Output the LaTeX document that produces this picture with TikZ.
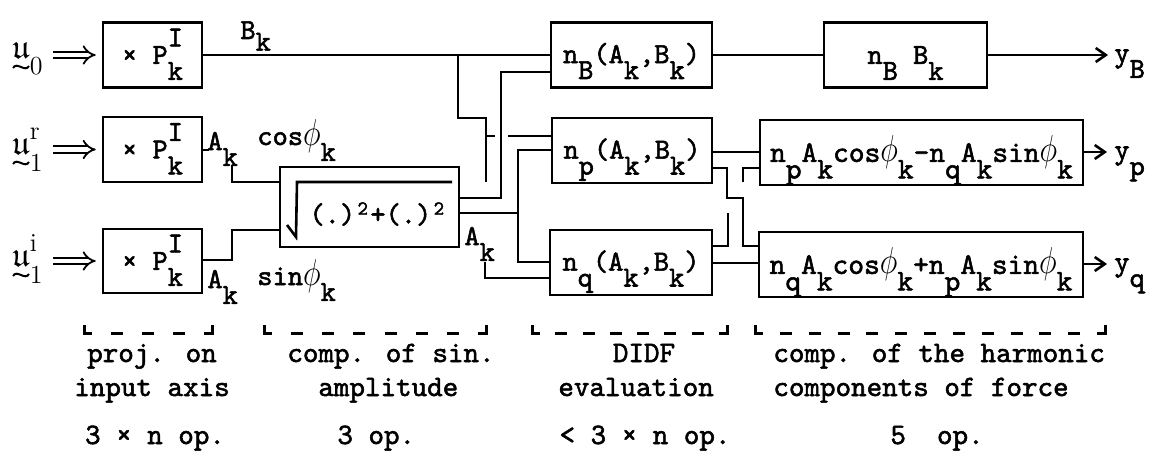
\documentclass[tikz,border=0pt]{standalone}
\usepackage{amsmath,amssymb}
\usepackage{fontspec}
\usetikzlibrary{arrows.meta}
\newfontfamily\tw{lmmono10-regular.otf}[FakeBold=1.8]
\newcommand\boxfont{\tw\fontsize{14.5}{17}\selectfont}
\newcommand\capfont{\tw\fontsize{14.8}{17}\selectfont}
\newcommand\dnx[1]{\smash{\raisebox{-0.55em}{#1}}}
\newcommand\upx[1]{\smash{\raisebox{0.6em}{#1}}}
\newcommand\phk{\scalebox{1.05}[1.3]{$\phi$}}
\newcommand\sqx{\makebox[0.525em]{\raisebox{0.3em}{\fontsize{10}{10}\selectfont 2}}}
\newcommand\smallrm[1]{{\rmfamily\fontsize{13}{13}\selectfont #1}}
\newcommand\brkt[3]{%
  \draw[brk] (#1,325) -- (#1,333) -- ++(8,0);
  \draw[brk] (#2,325) -- (#2,333) -- ++(-8,0);
  \pgfmathsetmacro\bgap{(#2-#1-16-12*#3)/(#3+1)}
  \foreach \i in {1,...,#3}{\draw[brk] ({#1+8+\i*\bgap+(\i-1)*12},333) -- ++(12,0);}
}
\newcommand\tildeat[2]{\draw[line width=1pt] (#1,#2+2) .. controls (#1+4,#2-5) and (#1+12,#2+7) .. (#1+16,#2);}
\tikzset{
  blk/.style={draw, line width=1.3pt, inner sep=0pt, font=\boxfont},
  wire/.style={line width=1.3pt},
  lbl/.style={inner sep=0pt, font=\boxfont, anchor=base west},
  captxt/.style={inner sep=0pt, font=\capfont, anchor=base west},
  inlbl/.style={inner sep=0pt, font=\fontsize{17}{20}\selectfont, anchor=base west},
  brk/.style={line width=1.5pt},
  outarrow/.style={wire, -{Straight Barb[length=5pt,width=7pt]}},
  inarrow/.style={double, double distance=2.4pt, line width=0.9pt, -{Implies}, shorten <=5pt, shorten >=3pt},
}
\begin{document}
\begin{tikzpicture}[x=0.5pt,y=-0.5pt]
\fill[white] (0,0) rectangle (1163,471);
\useasboundingbox (0,0) rectangle (1163,471);

% blocks
\node[blk, minimum width=49.5pt, minimum height=32.5pt] (P0) at (152.5,55) {× P\rlap{\upx{I}}\dnx{k}\hspace{7pt}};
\node[blk, minimum width=49.5pt, minimum height=32.5pt] (P1r) at (152.5,149.5) {× P\rlap{\upx{I}}\dnx{k}\hspace{7pt}};
\node[blk, minimum width=49.5pt, minimum height=32pt] (P1i) at (152.5,261) {× P\rlap{\upx{I}}\dnx{k}\hspace{7pt}};
\node[blk, minimum width=89.5pt, minimum height=40pt] (SQ) at (369.5,207) {};
\node[inner sep=0pt, font=\boxfont] (sqt) at (378,214) {(.)\sqx+(.)\sqx};
\draw[wire] (287,225) -- (296,237) -- (297,182) -- (452,182);
\node[blk, minimum width=80.5pt, minimum height=32.5pt] (nB) at (631.5,55) {n\dnx{B}(A\dnx{k},B\dnx{k})};
\node[blk, minimum width=80pt, minimum height=32.5pt] (np) at (632,150.5) {n\dnx{p}(A\dnx{k},B\dnx{k})};
\node[blk, minimum width=81pt, minimum height=32.5pt] (nq) at (631,262.5) {n\dnx{q}(A\dnx{k},B\dnx{k})};
\node[blk, minimum width=81.5pt, minimum height=32.5pt] (nBB) at (905.5,55) {n\dnx{B} B\dnx{k}};
\node[blk, minimum width=161.5pt, minimum height=32.5pt, font=\tw\fontsize{15}{17}\selectfont] (op) at (921.5,152.5) {n\dnx{p}A\dnx{k}cos\phk\dnx{k}-n\dnx{q}A\dnx{k}sin\phk\dnx{k}};
\node[blk, minimum width=162pt, minimum height=32.5pt, font=\tw\fontsize{15}{17}\selectfont] (oq) at (921,264.5) {n\dnx{q}A\dnx{k}cos\phk\dnx{k}+n\dnx{p}A\dnx{k}sin\phk\dnx{k}};

% inputs
\node[inlbl] (u0) at (12,58) {$\mathfrak{u}$\raisebox{-8.5pt}{\smallrm{0}}};
\node[inlbl] (u1r) at (12,154) {$\mathfrak{u}$\rlap{\raisebox{7.5pt}{\smallrm{r}}}\raisebox{-8.5pt}{\smallrm{1}}};
\node[inlbl] (u1i) at (12,266) {$\mathfrak{u}$\rlap{\raisebox{7.5pt}{\smallrm{i}}}\raisebox{-8.5pt}{\smallrm{1}}};
\tildeat{13}{66}
\tildeat{13}{162}
\tildeat{13}{274}
\draw[inarrow] (u0.east |- P0.west) -- (P0.west);
\draw[inarrow] (u1r.east |- P1r.west) -- (P1r.west);
\draw[inarrow] (u1i.east |- P1i.west) -- (P1i.west);

% labels
\node[lbl] (lBk) at (240,39) {B\smash{\raisebox{-0.4em}{k}}};
\node[lbl] (lAr) at (207,150) {A\dnx{k}};
\node[lbl] (lAi) at (207,288) {A\dnx{k}};
\node[lbl] (lcos) at (257,145) {cos\phk\dnx{k}};
\node[lbl] (lsin) at (257,285) {sin\phk\dnx{k}};
\node[lbl] (lAs) at (464,245) {A\dnx{k}};

% coordinates for free ends
\coordinate (j1) at (458,55);
\coordinate (e1) at (486,182);
\coordinate (j2) at (486,136);
\coordinate (s1) at (495,136);
\coordinate (s2) at (508,136);
\coordinate (e2) at (485,262);
\coordinate (c1) at (232,165);
\coordinate (e3) at (743,182);
\coordinate (e4) at (728,213);
\coordinate (yBend) at (1108,55);
\coordinate (ypend) at (1107,152);
\coordinate (yqend) at (1107,264);

% wires
\draw[wire] (P0.east) -- (nB.west);
\draw[wire] (j1) |- (486,118) -- (e1);
\draw[wire] (j2) -- (s1);
\draw[wire] (s2) -- (np.west |- s2);
\draw[wire] (SQ.east |- 0,198) -| (501,72) -- (nB.west |- 0,72);
\draw[wire] (SQ.east |- 0,213) -- (518,213);
\draw[wire] (np.west |- 0,150) -- (518,150) -- (518,262) -- (nq.west |- 0,262);
\draw[wire] (e2) |- (nq.west |- 0,278);
\draw[wire] (P1r.east |- 0,150) -- (209,150);
\draw[wire] (c1) |- (SQ.west |- 0,182);
\draw[wire] (P1i.east |- 0,260) -| (232,230) -- (SQ.west |- 0,230);
\draw[wire] (nB.east) -- (nBB.west);
\draw[outarrow] (nBB.east) -- (yBend);
\draw[wire] (np.east |- 0,152) -- (op.west |- 0,152);
\draw[wire] (np.east |- 0,168) -- (727,168) -- (727,198) -- (743,198) -- (743,246) -- (oq.west |- 0,246);
\draw[wire] (nq.east |- 0,246) -- (728,246) -- (e4);
\draw[wire] (e3) |- (op.west |- 0,168);
\draw[wire] (nq.east |- 0,263) -- (oq.west |- 0,263);
\draw[outarrow] (op.east |- ypend) -- (ypend);
\draw[outarrow] (oq.east |- yqend) -- (yqend);
\node[lbl] (yB) at (1114,62) {y\dnx{B}};
\node[lbl] (yp) at (1114,159) {y\dnx{p}};
\node[lbl] (yq) at (1114,271) {y\dnx{q}};

% brackets
\brkt{84}{212}{3}
\brkt{264}{486}{6}
\brkt{532}{727}{6}
\brkt{755}{1105}{11}

% captions
\node[captxt, anchor=base] (t1a) at (152,362) {proj. on};
\node[captxt, anchor=base] (t1b) at (152,396) {input axis};
\node[captxt, anchor=base] (t1c) at (155,444) {3 × n op.};
\node[captxt] (t2a) at (287,362) {comp. of sin.};
\node[captxt] (t2b) at (318,396) {amplitude};
\node[captxt] (t2c) at (337,444) {3 op.};
\node[captxt, anchor=base] (t3a) at (644,362) {DIDF};
\node[captxt] (t3b) at (558,396) {evaluation};
\node[captxt, anchor=base] (t3c) at (645,444) {< 3 × n op.};
\node[captxt] (t4a) at (773,362) {comp. of the harmonic};
\node[captxt] (t4b) at (773,396) {components of force};
\node[captxt] (t4c) at (890,444) {5\ \ op.};
\end{tikzpicture}
\end{document}
